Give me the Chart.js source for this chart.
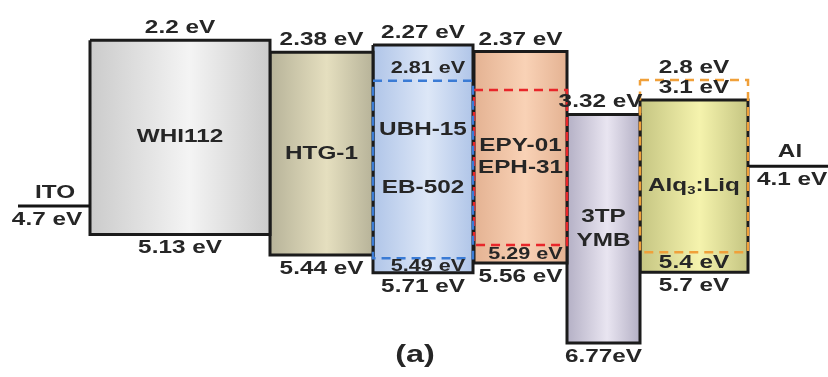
<!DOCTYPE html>
<html>
<head>
<meta charset="utf-8">
<script src="https://cdn.jsdelivr.net/npm/chart.js@4.4.1/dist/chart.umd.min.js"></script>
<style>
  body { margin: 0; background: #fff; }
  #wrap { width: 828px; height: 377px; }
</style>
</head>
<body>
<div id="wrap"><canvas id="grafica" width="828" height="377"></canvas></div>
<script>
// capas orgánicas: LUMO (arriba) y HOMO (abajo), en eV
const capas = ['WHI112', 'HTG-1', 'UBH-15|EB-502', 'EPY-01|EPH-31', '3TP|YMB', 'Alq3:Liq'];
const lumo = [2.2, 2.38, 2.27, 2.37, 3.32, 3.1];
const homo = [5.13, 5.44, 5.71, 5.56, 6.77, 5.7];
const textoLumo = ['2.2 eV', '2.38 eV', '2.27 eV', '2.37 eV', '3.32 eV', '3.1 eV'];
const textoHomo = ['5.13 eV', '5.44 eV', '5.71 eV', '5.56 eV', '6.77eV', '5.7 eV'];

// niveles del dopante (rectángulo punteado); el rojo de arriba no tiene etiqueta
const lumoDop = [null, null, 2.81, 2.95, null, 2.8];
const homoDop = [null, null, 5.49, 5.29, null, 5.4];
const textoLumoDop = [null, null, '2.81 eV', null, null, '2.8 eV'];
const textoHomoDop = [null, null, '5.49 eV', '5.29 eV', null, '5.4 eV'];

// electrodos
const electrodos = ['ITO', 'Al'];
const funcionTrabajo = [4.7, 4.1];
const textoElectrodo = ['4.7 eV', '4.1 eV'];

// --- disposición y estilo (no son datos) ---
const bordes = [[90, 270], [270, 373], [373, 473], [474, 567], [567, 640], [640, 748]];
const bordesElectrodo = [[18, 90], [748, 828]];
const colores = [
  ['#cbcbcb', '#f4f4f4'], ['#b7b399', '#e5dfbf'], ['#b0c5e8', '#dde7f7'],
  ['#e4b292', '#f9d2b6'], ['#b4b0c5', '#e9e5f1'], ['#c5c582', '#f5f3ad']
];
const coloresDop = [null, null, '#3a7bd5', '#e8262a', null, '#f0a03a'];
const sepNombre = [0, 0, 58, 22, 24, 0];
const ESTIRA = 1.35;

function degradado(chart, x0, x1, par) {
  const { ctx, scales, chartArea } = chart;
  if (!chartArea || !scales.x) return par[0];
  const a = scales.x.getPixelForValue(x0), b = scales.x.getPixelForValue(x1);
  if (!isFinite(a) || !isFinite(b)) return par[0];
  const g = ctx.createLinearGradient(a, 0, b, 0);
  g.addColorStop(0, par[0]);
  g.addColorStop(0.55, par[1]);
  g.addColorStop(1, par[0]);
  return g;
}

function rect(x0, x1, arriba, abajo) {
  return [
    { x: x0, y: arriba }, { x: x1, y: arriba }, { x: x1, y: abajo },
    { x: x0, y: abajo }, { x: x0, y: arriba }
  ];
}

const datasets = [];

// rectángulos punteados primero (orden 0 = encima)
capas.forEach((c, i) => {
  if (lumoDop[i] == null) return;
  const [x0, x1] = bordes[i];
  datasets.push({
    label: c + ' dopante',
    data: rect(x0, x1, lumoDop[i], homoDop[i]),
    borderColor: coloresDop[i],
    borderWidth: 2.5,
    borderDash: [9, 6],
    fill: false,
    order: 0
  });
});

electrodos.forEach((e, i) => {
  const [x0, x1] = bordesElectrodo[i];
  datasets.push({
    label: e,
    data: [{ x: x0, y: funcionTrabajo[i] }, { x: x1, y: funcionTrabajo[i] }],
    borderColor: '#151515',
    borderWidth: 3,
    fill: false,
    order: 0
  });
});

capas.forEach((c, i) => {
  const [x0, x1] = bordes[i];
  datasets.push({
    label: c,
    data: rect(x0, x1, lumo[i], homo[i]),
    borderColor: '#1b1b1b',
    borderWidth: 3,
    borderJoinStyle: 'miter',
    fill: 'shape',
    backgroundColor: (ctx) => degradado(ctx.chart, x0, x1, colores[i]),
    order: 1
  });
});

function texto(ctx, t, px, py, size, align) {
  ctx.save();
  ctx.font = 'bold ' + size + 'px "Liberation Sans", Arial, sans-serif';
  ctx.fillStyle = '#262626';
  ctx.textAlign = align || 'center';
  ctx.textBaseline = 'middle';
  ctx.translate(px, py);
  ctx.scale(ESTIRA, 1);
  if (t === 'Alq3:Liq') {
    // subíndice del 3
    const f1 = 'bold ' + size + 'px "Liberation Sans", Arial, sans-serif';
    const f2 = 'bold ' + Math.round(size * 0.6) + 'px "Liberation Sans", Arial, sans-serif';
    ctx.font = f1; const w1 = ctx.measureText('Alq').width, w3 = ctx.measureText(':Liq').width;
    ctx.font = f2; const w2 = ctx.measureText('3').width;
    let x = -(w1 + w2 + w3) / 2;
    ctx.textAlign = 'left';
    ctx.font = f1; ctx.fillText('Alq', x, 0); x += w1;
    ctx.font = f2; ctx.fillText('3', x, size * 0.3); x += w2;
    ctx.font = f1; ctx.fillText(':Liq', x, 0);
  } else {
    ctx.fillText(t, 0, 0);
  }
  ctx.restore();
}

const textos = {
  id: 'textos',
  afterDatasetsDraw(chart) {
    const { ctx, scales: { x, y } } = chart;
    capas.forEach((c, i) => {
      const cx = (x.getPixelForValue(bordes[i][0]) + x.getPixelForValue(bordes[i][1])) / 2;
      const yT = y.getPixelForValue(lumo[i]), yB = y.getPixelForValue(homo[i]);
      // nombre
      const lineas = c.split('|');
      const mid = (yT + yB) / 2;
      lineas.forEach((l, k) => {
        texto(ctx, l, cx, mid + (k - (lineas.length - 1) / 2) * sepNombre[i], 18);
      });
      texto(ctx, textoLumo[i], i === 4 ? cx - 3 : cx, yT - 12, 18);
      texto(ctx, textoHomo[i], cx, yB + 14, 18);
      if (textoLumoDop[i]) {
        const yd = y.getPixelForValue(lumoDop[i]);
        texto(ctx, textoLumoDop[i], i === 2 ? cx + 5 : cx, yd - 12, i === 2 ? 16 : 18);
      }
      if (textoHomoDop[i]) {
        const yd = y.getPixelForValue(homoDop[i]);
        texto(ctx, textoHomoDop[i], i === 5 ? cx : cx + 5, (yd + yB) / 2 + 1, i === 5 ? 18 : 16);
      }
    });
    electrodos.forEach((e, i) => {
      const yy = y.getPixelForValue(funcionTrabajo[i]);
      if (i === 0) {
        texto(ctx, e, 55, yy - 13, 18);
        texto(ctx, textoElectrodo[i], 47, yy + 14, 18);
      } else {
        texto(ctx, e, 790, yy - 14, 18);
        texto(ctx, textoElectrodo[i], 757, yy + 14, 18, 'left');
      }
    });
    texto(ctx, '(a)', 415, 355, 24);
  }
};

const canvas = document.getElementById('grafica');
const grafico = new Chart(canvas.getContext('2d'), {
  type: 'scatter',
  data: { datasets },
  options: {
    responsive: false,
    animation: false,
    showLine: true,
    layout: { padding: 0 },
    elements: {
      point: { radius: 0, hoverRadius: 0 },
      line: { tension: 0 }
    },
    scales: {
      x: { type: 'linear', min: 0, max: 828, display: false },
      y: { type: 'linear', min: 1.592, max: 7.282, reverse: true, display: false }
    },
    plugins: {
      legend: { display: false },
      tooltip: { enabled: false }
    }
  },
  plugins: [textos]
});
</script>
</body>
</html>
